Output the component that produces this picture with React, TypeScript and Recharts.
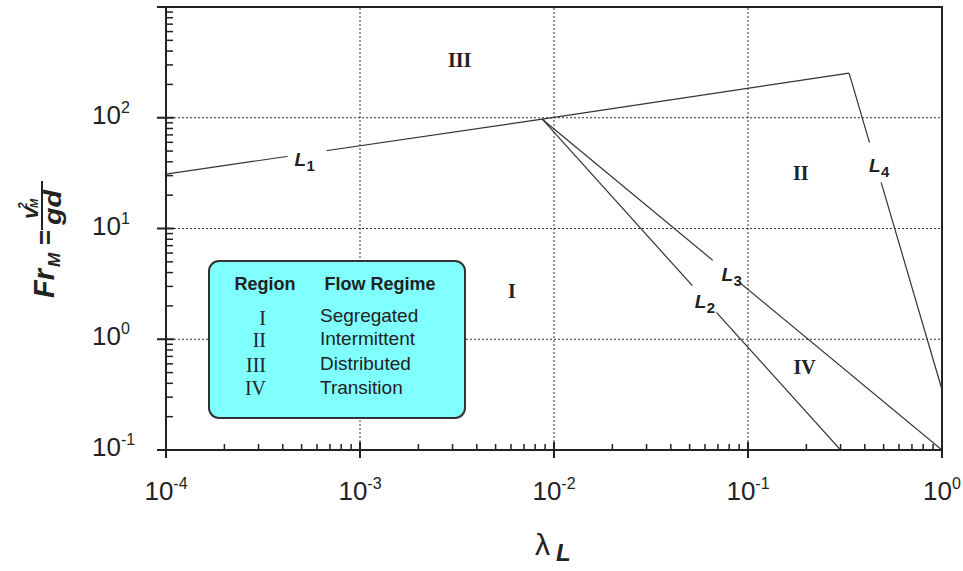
import React from 'react';
import {
  LineChart,
  Line,
  XAxis,
  YAxis,
  ReferenceLine,
  ReferenceArea,
  ReferenceDot,
  Legend,
  Label,
} from 'recharts';

// ---- data ----
const xDecades = [1e-4, 1e-3, 1e-2, 1e-1, 1];
const xDecadeLabels = ['-4', '-3', '-2', '-1', '0'];
const yDecades = [1e-1, 1, 10, 100, 1000];
const yDecadeLabels = ['-1', '0', '1', '2', ''];
const minorSteps = [2, 3, 4, 5, 6, 7, 8, 9];
const xGridValues = [1e-3, 1e-2, 1e-1];
const yGridValues = [1, 10, 100];

const lineL1 = [
  { x: 1e-4, y: 31 },
  { x: 0.0087, y: 97 },
  { x: 0.332, y: 253 },
];
const lineL2 = [
  { x: 0.0087, y: 97 },
  { x: 0.3, y: 0.1 },
];
const lineL3 = [
  { x: 0.0087, y: 97 },
  { x: 1, y: 0.1 },
];
const lineL4 = [
  { x: 0.332, y: 253 },
  { x: 1, y: 0.35 },
];

const regionLabels = [
  { text: 'III', x: 3.26e-3, y: 329 },
  { text: 'II', x: 0.187, y: 32 },
  { text: 'I', x: 6.06e-3, y: 2.75 },
  { text: 'IV', x: 0.196, y: 0.556 },
];

// line labels (anchor = left baseline of "L") and the gap each leaves in its line
const lineLabels = [
  { sub: '1', x: 4.6e-4, y: 37, gap: [-7, -18, 39, 31] },
  { sub: '2', x: 0.0531, y: 1.93, gap: [-3, -22, 25, 27] },
  { sub: '3', x: 0.0731, y: 3.39, gap: [-9, -21, 27, 24] },
  { sub: '4', x: 0.42, y: 32.7, gap: [-3, -29, 18, 40] },
];

const legendHeader = ['Region', 'Flow Regime'];
const legendRows = [
  ['I', 'Segregated'],
  ['II', 'Intermittent'],
  ['III', 'Distributed'],
  ['IV', 'Transition'],
];

// ---- ticks ----
const buildTicks = (decades: number[]) => {
  const t: number[] = [];
  decades.forEach((d, i) => {
    t.push(d);
    if (i < decades.length - 1) minorSteps.forEach((m) => t.push(d * m));
  });
  return t;
};
const xTicks = buildTicks(xDecades);
const yTicks = buildTicks(yDecades);

const SANS = '"Liberation Sans", Arial, sans-serif';
const SERIF = '"Liberation Serif", "Times New Roman", serif';
const INK = '#222';

const majorIndex = (v: number, decades: number[]) =>
  decades.findIndex((d) => Math.abs(Math.log10(d) - Math.log10(v)) < 1e-6);

const XTick = (props: any) => {
  const { x, y, payload } = props;
  const idx = majorIndex(payload.value, xDecades);
  if (idx < 0) {
    return <line x1={x} x2={x} y1={y} y2={y - 6} stroke={INK} strokeWidth={1.5} />;
  }
  return (
    <g>
      <line x1={x} x2={x} y1={y - 8} y2={y + 8} stroke={INK} strokeWidth={2} />
      <text x={x} y={y + 50} textAnchor="middle" fontFamily={SANS} fontSize={26} fill={INK}>
        <tspan>10</tspan>
        <tspan dy={-11} fontSize={16}>{xDecadeLabels[idx]}</tspan>
      </text>
    </g>
  );
};

const YTick = (props: any) => {
  const { x, y, payload } = props;
  const idx = majorIndex(payload.value, yDecades);
  if (idx < 0) {
    return <line x1={x} x2={x + 7} y1={y} y2={y} stroke={INK} strokeWidth={1.5} />;
  }
  return (
    <g>
      <line x1={x - 9} x2={x + 8} y1={y} y2={y} stroke={INK} strokeWidth={2} />
      {yDecadeLabels[idx] !== '' && (
        <text x={x - 74} y={y + 6} textAnchor="start" fontFamily={SANS} fontSize={26} fill={INK}>
          <tspan>10</tspan>
          <tspan dy={-11} fontSize={16}>{yDecadeLabels[idx]}</tspan>
        </text>
      )}
    </g>
  );
};

const XTitle = (props: any) => {
  const vb = props.viewBox || { x: 166, y: 450, width: 776 };
  const cx = vb.x + vb.width / 2;
  const by = vb.y + 105;
  return (
    <g>
      <text x={cx - 19} y={by} fontFamily={SANS} fontSize={30} fill={INK}>
        λ
      </text>
      <text x={cx + 2} y={by + 6} fontFamily={SANS} fontSize={24} fontWeight="bold" fontStyle="italic" fill={INK}>
        L
      </text>
    </g>
  );
};

const YTitle = (props: any) => {
  const vb = props.viewBox || { x: 165, y: 7, height: 443 };
  const ox = vb.x + (vb.width || 0) - 112;
  const oy = vb.y + 291;
  const bi = { fontFamily: SANS, fontWeight: 'bold', fontStyle: 'italic', fill: INK } as any;
  return (
    <g transform={`translate(${ox}, ${oy}) rotate(-90)`}>
      <text x={0} y={0} fontSize={29} {...bi}>Fr</text>
      <text x={31} y={6} fontSize={17} {...bi}>M</text>
      <text x={53} y={0} fontSize={26} fontFamily={SANS} fontWeight="bold" fill={INK}>=</text>
      <line x1={68} x2={117} y1={-12} y2={-12} stroke={INK} strokeWidth={2} />
      <text x={79} y={-16} fontSize={22} {...bi}>v</text>
      <text x={89} y={-27} fontSize={12} {...bi}>2</text>
      <text x={90} y={-16} fontSize={11} {...bi}>M</text>
      <text x={73} y={7} fontSize={23} {...bi} textLength={35} lengthAdjust="spacingAndGlyphs">gd</text>
    </g>
  );
};

const RegionText = (text: string) => (p: any) => (
  <text
    x={p.cx}
    y={p.cy}
    textAnchor="middle"
    dominantBaseline="central"
    fontFamily={SERIF}
    fontWeight="bold"
    fontSize={20}
    fill={INK}
  >
    {text}
  </text>
);

const LineLabel = (sub: string, gap: number[]) => (p: any) => (
  <g>
    <rect x={p.cx + gap[0]} y={p.cy + gap[1]} width={gap[2]} height={gap[3]} fill="#fff" />
    <text x={p.cx} y={p.cy} fontFamily={SANS} fontWeight="bold" fontStyle="italic" fontSize={19} fill={INK}>
      L
    </text>
    <text x={p.cx + 12} y={p.cy + 5} fontFamily={SANS} fontWeight="bold" fontSize={15} fill={INK}>
      {sub}
    </text>
  </g>
);

const LegendBox = () => (
  <svg width={260} height={161} style={{ display: 'block' }}>
    <rect x={1} y={1} width={256} height={157} rx={10} ry={10} fill="#80ffff" stroke="#333" strokeWidth={2} />
    <text x={57} y={30} textAnchor="middle" fontFamily={SANS} fontWeight="bold" fontSize={18} fill={INK}>
      {legendHeader[0]}
    </text>
    <text x={172} y={30} textAnchor="middle" fontFamily={SANS} fontWeight="bold" fontSize={18} fill={INK}>
      {legendHeader[1]}
    </text>
    {legendRows.map((r, i) => (
      <g key={r[0]}>
        <text x={58} y={[65, 87, 112, 135][i]} textAnchor="end" fontFamily={SERIF} fontSize={20} fill={INK}>
          {r[0]}
        </text>
        <text x={112} y={[62, 85, 110, 134][i]} textAnchor="start" fontFamily={SANS} fontSize={19} fill={INK}>
          {r[1]}
        </text>
      </g>
    ))}
  </svg>
);

export default function App() {
  return (
    <div style={{ position: 'absolute', left: 0, top: 0, width: 963, height: 571, background: '#fff' }}>
      <LineChart width={963} height={571} margin={{ top: 7, right: 21, bottom: 120, left: 165 }}>
        <XAxis
          dataKey="x"
          type="number"
          scale="log"
          domain={[1e-4, 1]}
          ticks={xTicks}
          interval={0}
          tick={(p: any) => <XTick {...p} />}
          tickLine={false}
          tickSize={0}
          tickMargin={0}
          height={1}
          axisLine={{ stroke: INK, strokeWidth: 2 }}
          allowDataOverflow
        >
          <Label content={(p: any) => <XTitle {...p} />} />
        </XAxis>
        <YAxis
          dataKey="y"
          type="number"
          scale="log"
          domain={[0.1, 1000]}
          ticks={yTicks}
          interval={0}
          tick={(p: any) => <YTick {...p} />}
          tickLine={false}
          tickSize={0}
          tickMargin={0}
          width={1}
          axisLine={{ stroke: INK, strokeWidth: 2 }}
          allowDataOverflow
        >
          <Label content={(p: any) => <YTitle {...p} />} />
        </YAxis>
        {xGridValues.map((v) => (
          <ReferenceLine key={'gx' + v} x={v} stroke="#333" strokeWidth={1} strokeDasharray="2 2" />
        ))}
        {yGridValues.map((v) => (
          <ReferenceLine key={'gy' + v} y={v} stroke="#333" strokeWidth={1} strokeDasharray="2 2" />
        ))}
        <ReferenceArea x1={1e-4} x2={1} y1={0.1} y2={1000} fill="none" stroke={INK} strokeWidth={2} />
        <Line data={lineL1} dataKey="y" stroke="#333" strokeWidth={1.2} dot={false} isAnimationActive={false} />
        <Line data={lineL2} dataKey="y" stroke="#333" strokeWidth={1.2} dot={false} isAnimationActive={false} />
        <Line data={lineL3} dataKey="y" stroke="#333" strokeWidth={1.2} dot={false} isAnimationActive={false} />
        <Line data={lineL4} dataKey="y" stroke="#333" strokeWidth={1.2} dot={false} isAnimationActive={false} />
        {regionLabels.map((r) => (
          <ReferenceDot key={r.text} x={r.x} y={r.y} r={0} shape={RegionText(r.text)} />
        ))}
        {lineLabels.map((l) => (
          <ReferenceDot key={l.sub} x={l.x} y={l.y} r={0} shape={LineLabel(l.sub, l.gap)} />
        ))}
        <Legend
          layout="horizontal"
          verticalAlign="middle"
          align="center"
          content={() => <LegendBox />}
          wrapperStyle={{ position: 'absolute', left: 208, top: 260, width: 260, height: 161 }}
        />
      </LineChart>
    </div>
  );
}
